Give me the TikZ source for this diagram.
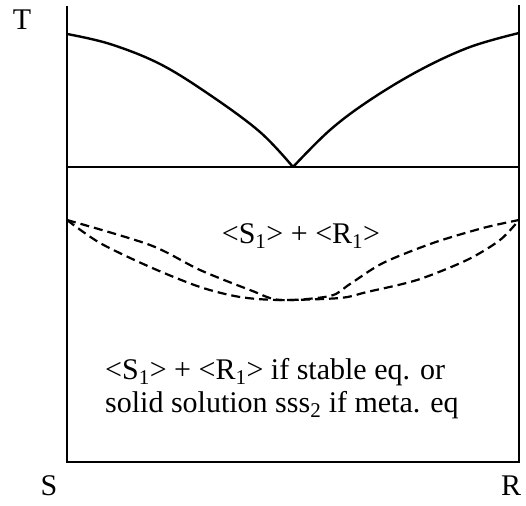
\documentclass[tikz,border=0pt]{standalone}
\usepackage{fontspec}
\setmainfont{Liberation Serif}
\begin{document}
\begin{tikzpicture}[
  x=1bp, y=-1bp,
  frame/.style={line width=2bp},
  liq/.style={line width=2.4bp, line join=round},
  meta/.style={line width=2.2bp, dash pattern=on 9bp off 5bp},
  lbl/.style={font=\fontsize{30bp}{33bp}\selectfont, inner sep=0pt}
]
  \useasboundingbox (0,0) rectangle (526,506);

  % frame
  \coordinate (tl) at (67,6);
  \coordinate (bl) at (67,462);
  \coordinate (br) at (519,462);
  \coordinate (tr) at (519,5);
  \draw[frame] (tl) -- (bl) -- (br) -- (tr);

  % eutectic line
  \coordinate (el) at (67,167);
  \coordinate (er) at (519,167);
  \coordinate (e) at (293,167);
  \draw[frame] (el) -- (er);

  % liquidus
  \draw[liq] plot[smooth, tension=0.6] coordinates
    {(67,34) (110,44) (160,64) (210,95) (260,132) (293,167)};
  \draw[liq] plot[smooth, tension=0.6] coordinates
    {(293,167) (330,130) (370,100) (420,70) (470,47) (519,33)};

  % metastable curves
  \draw[meta] plot[smooth] coordinates
    {(67,220) (100,243) (150,267) (200,287) (240,297) (280,300)
     (340,298) (367,292) (417,280) (467,260) (500,240) (519,220)};
  \draw[meta] plot[smooth] coordinates
    {(67,220) (150,245) (200,270) (250,290) (280,300)
     (330,296) (350,284) (383,263) (433,243) (483,228) (519,220)};

  % labels
  \node[lbl] (T) at (22,20) {T};
  \node[lbl] (S) at (49,486) {S};
  \node[lbl] (R) at (511,486) {R};
  \node[lbl] (up) at (301,236) {<S\textsubscript{1}> + <R\textsubscript{1}>};
  \node[lbl, anchor=base west, align=left] (low) at (105,412)
    {<S\textsubscript{1}> + <R\textsubscript{1}> if stable eq. or\\
     solid solution sss\textsubscript{2} if meta. eq};
\end{tikzpicture}
\end{document}
